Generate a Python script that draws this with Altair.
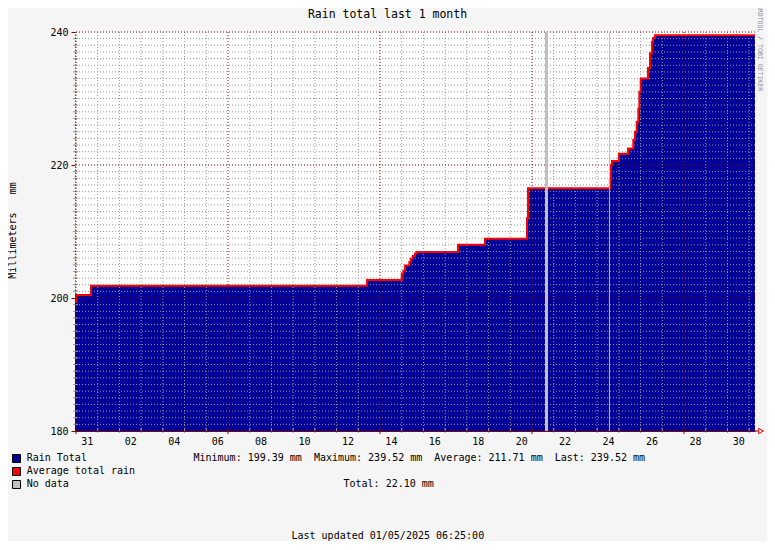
import altair as alt
import pandas as pd

MONO = "DejaVu Sans Mono"
W, H = 680, 399
NB = "\u00a0"

# ---- data -----------------------------------------------------------------
times = [
    "2025-03-30T22:54", "2025-03-31T00:00", "2025-03-31T16:35", "2025-04-13T09:40",
    "2025-04-15T00:00", "2025-04-15T01:45", "2025-04-15T03:35", "2025-04-15T08:25",
    "2025-04-15T09:55", "2025-04-15T12:10", "2025-04-15T14:40", "2025-04-15T16:35",
    "2025-04-17T14:05", "2025-04-18T20:00", "2025-04-20T18:25", "2025-04-20T19:30",
    "2025-04-24T14:05", "2025-04-24T15:10", "2025-04-24T16:15", "2025-04-24T23:55",
    "2025-04-25T10:00", "2025-04-25T15:55", "2025-04-25T17:50", "2025-04-25T19:40",
    "2025-04-25T21:30", "2025-04-25T22:35", "2025-04-26T00:05", "2025-04-26T08:05",
    "2025-04-26T10:20", "2025-04-26T12:30", "2025-04-26T13:35", "2025-04-26T15:50",
    "2025-05-01T06:25",
]
rain_total = [
    199.39, 200.45, 201.85, 202.71,
    203.65, 204.1, 204.9, 205.4,
    205.9, 206.3, 206.7, 206.9,
    208.0, 208.9, 212.0, 216.5,
    217.7, 220.0, 220.6, 221.7,
    222.5, 223.8, 225.0, 226.5,
    228.5, 231.0, 233.0, 234.6,
    236.8, 238.5, 239.1, 239.52,
    239.52,
]
nodata_start = ["2025-04-21T14:20", "2025-04-24T12:58"]
nodata_end = ["2025-04-21T17:40", "2025-04-24T14:03"]

y_major = [200, 220, 240]
y_labels = [180, 200, 220, 240]
y_minor = [v for v in range(181, 240) if v not in y_major]
day_lines = [d for d in pd.date_range("2025-03-31", "2025-05-01", freq="D")]
x_major = [d.strftime("%Y-%m-%dT%H:%M") for d in day_lines if d.weekday() == 0]
x_minor = [d.strftime("%Y-%m-%dT%H:%M") for d in day_lines if d.weekday() != 0]
label_days = [(3, 31)] + [(4, d) for d in range(2, 31, 2)]

title_text = "Rain total last 1 month"
ylabel_text = "Millimeters" + NB * 3 + "mm"
side_text = "RRDTOOL / TOBI OETIKER"
legend_labels = ["Rain Total", "Average total rain", "No data"]
legend_colors = ["#000099", "#FF0000", "#C0C0C0"]
stats_text = (NB * 2).join(["Minimum: 199.39 mm", "Maximum: 239.52 mm",
                            "Average: 211.71 mm", "Last: 239.52 mm"])
total_text = "Total: 22.10 mm"
updated_text = "Last updated 01/05/2025 06:25:00"

# ---- scales ----------------------------------------------------------------
xscale = alt.Scale(domain=[
    alt.DateTime(year=2025, month=3, date=30, hours=22, minutes=54),
    alt.DateTime(year=2025, month=5, date=1, hours=6, minutes=25),
])
yscale = alt.Scale(domain=[180, 240], nice=False, zero=False)

df = pd.DataFrame({"t": times, "v": rain_total})

x_axis = alt.Axis(
    values=[alt.DateTime(year=2025, month=m, date=d, hours=12) for m, d in label_days],
    labelExpr="timeFormat(datum.value, '%d')",
    ticks=False, tickSize=0, grid=False, title=None,
    labelFont=MONO, labelFontSize=10, labelColor="#000000", labelPadding=5,
    domainColor="#800000", domainWidth=1, zindex=1,
)
y_axis = alt.Axis(
    values=y_labels, format="d", grid=False, title=None,
    labelFont=MONO, labelFontSize=10, labelColor="#000000", labelPadding=3,
    tickColor="#800000", tickSize=4, tickWidth=1,
    domainColor="#800000", domainDash=[1, 2], zindex=1,
)

area = alt.Chart(df).mark_area(interpolate="step-after", color="#000099").encode(
    x=alt.X("t:T", scale=xscale, axis=x_axis),
    y=alt.Y("v:Q", scale=yscale, axis=y_axis),
    y2=alt.datum(180),
)

line = alt.Chart(df).mark_line(interpolate="step-after", color="#FF0000", strokeWidth=2).encode(
    x=alt.X("t:T", scale=xscale),
    y=alt.Y("v:Q", scale=yscale),
)

GRID = "#999999"
MGRID = "#800000"

hminor = alt.Chart(pd.DataFrame({"y": y_minor})).mark_rule(
    color=GRID, strokeWidth=1, strokeDash=[1, 2]).encode(y=alt.Y("y:Q", scale=yscale))
hminor_tick = alt.Chart(pd.DataFrame({"y": y_minor})).mark_rule(
    color=GRID, strokeWidth=1).encode(y=alt.Y("y:Q", scale=yscale), x=alt.value(-2), x2=alt.value(3))
hmajor = alt.Chart(pd.DataFrame({"y": y_major})).mark_rule(
    color=MGRID, strokeWidth=1, strokeDash=[1, 2]).encode(y=alt.Y("y:Q", scale=yscale))

vminor = alt.Chart(pd.DataFrame({"d": x_minor})).mark_rule(
    color=GRID, strokeWidth=1, strokeDash=[1, 2]).encode(x=alt.X("d:T", scale=xscale))
vminor_tick = alt.Chart(pd.DataFrame({"d": x_minor})).mark_rule(
    color=GRID, strokeWidth=1).encode(x=alt.X("d:T", scale=xscale), y=alt.value(H - 3), y2=alt.value(H + 2))
vmajor = alt.Chart(pd.DataFrame({"d": x_major})).mark_rule(
    color=MGRID, strokeWidth=1, strokeDash=[1, 2]).encode(x=alt.X("d:T", scale=xscale))
vmajor_tick = alt.Chart(pd.DataFrame({"d": x_major})).mark_rule(
    color=MGRID, strokeWidth=1).encode(x=alt.X("d:T", scale=xscale), y=alt.value(H - 3), y2=alt.value(H + 3))

nodata = alt.Chart(pd.DataFrame({"s": nodata_start, "e": nodata_end})).mark_rect(color="#C0C0C0").encode(
    x=alt.X("s:T", scale=xscale), x2="e:T", y=alt.value(0), y2=alt.value(H))

arrow_line = alt.Chart(pd.DataFrame({"a": [0]})).mark_rule(color=MGRID).encode(
    x=alt.value(W), x2=alt.value(W + 3), y=alt.value(H))
arrow = alt.Chart(pd.DataFrame({"a": [0]})).mark_point(
    shape="triangle-right", filled=False, color="#FF0000", size=30, strokeWidth=1, opacity=1).encode(
    x=alt.value(W + 6), y=alt.value(H))


def txt(s, x, y, size=10, align="left", angle=0, color="#000000"):
    return alt.Chart(pd.DataFrame({"s": [s]})).mark_text(
        font=MONO, fontSize=size, align=align, baseline="middle", angle=angle, color=color
    ).encode(x=alt.value(x), y=alt.value(y), text="s:N")


texts = [
    txt(title_text, 312.5, -17, size=11.5, align="center"),
    txt(ylabel_text, -62, 198.5, angle=270, align="center"),
    txt(side_text, 684.5, 16, size=6.5, align="center", angle=90, color="#8C8C8C"),
    txt(stats_text, 118.5, 426.3),
    txt(total_text, 268.5, 452),
    txt(updated_text, 216.5, 504),
]
for i, (lab, col) in enumerate(zip(legend_labels, legend_colors)):
    texts.append(
        alt.Chart(pd.DataFrame({"c": [col]})).mark_square(
            size=64, stroke="#000000", strokeWidth=1, opacity=1
        ).encode(x=alt.value(-58.5), y=alt.value(426.5 + 13 * i), fill=alt.Fill("c:N", scale=None))
    )
    texts.append(txt(lab, -48.3, 426.3 + 12.85 * i))

chart = alt.layer(
    area, hminor, vminor, hmajor, vmajor, line, nodata,
    hminor_tick, vminor_tick, vmajor_tick, arrow_line, arrow, *texts
).properties(
    width=W, height=H,
    padding={"left": 67, "top": 24, "right": 12, "bottom": 110},
    autosize=alt.AutoSizeParams(type="none"),
    background="#F5F5F5",
).configure_view(fill="#FFFFFF", stroke=None)

chart.save("out.html", embed_options={"renderer": "svg", "actions": False})
